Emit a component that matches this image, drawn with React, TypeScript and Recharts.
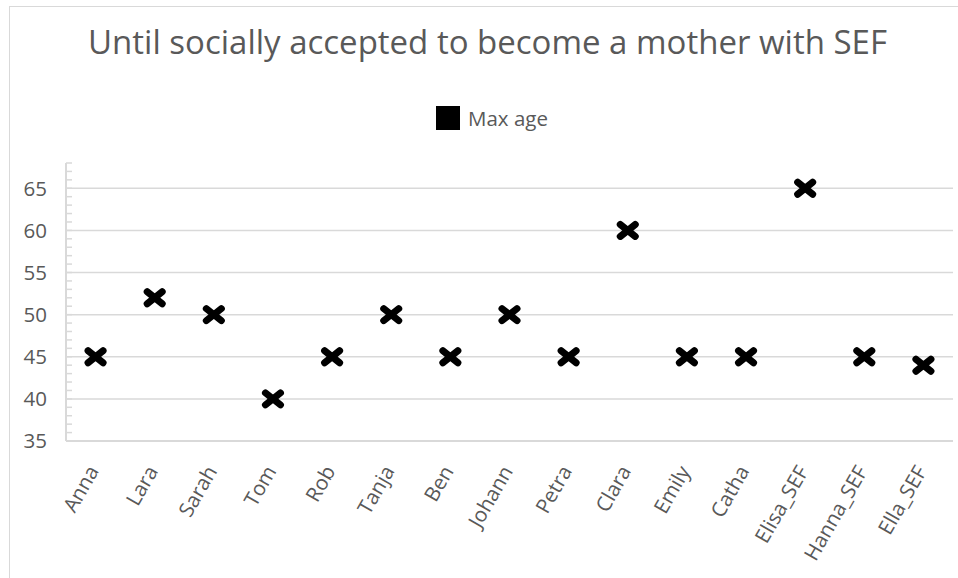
import React from 'react';
import {
  ScatterChart,
  Scatter,
  XAxis,
  YAxis,
  CartesianGrid,
} from 'recharts';

const names = [
  'Anna', 'Lara', 'Sarah', 'Tom', 'Rob', 'Tanja', 'Ben', 'Johann',
  'Petra', 'Clara', 'Emily', 'Catha', 'Elisa_SEF', 'Hanna_SEF', 'Ella_SEF',
];
const maxAge = [45, 52, 50, 40, 45, 50, 45, 50, 45, 60, 45, 45, 65, 45, 44];
const ageDomain = [35, 68];
const majorTicks = [35, 40, 45, 50, 55, 60, 65];
const minorTicks = [
  35, 36, 37, 38, 39, 40, 41, 42, 43, 44, 45, 46, 47, 48, 49, 50, 51,
  52, 53, 54, 55, 56, 57, 58, 59, 60, 61, 62, 63, 64, 65, 66, 67, 68,
];

const data = names.map((name, i) => ({ name, age: maxAge[i] }));

const FONT = '"Open Sans", Calibri, sans-serif';
const TEXT = '#595959';
const LINE = '#d9d9d9';
const LABEL_GAP = 19;

// thick black cross used as point marker
function CrossMark(props: any) {
  const { cx, cy } = props;
  if (cx == null || cy == null) return null;
  return (
    <g stroke="#000" strokeWidth={7} strokeLinecap="round">
      <line x1={cx - 7.5} y1={cy - 6} x2={cx + 7.5} y2={cy + 6} />
      <line x1={cx - 7.5} y1={cy + 6} x2={cx + 7.5} y2={cy - 6} />
    </g>
  );
}

// y ticks: small inner mark every unit, label on the major values
function AgeTick(props: any) {
  const { x, y, payload } = props;
  const axisX = x + LABEL_GAP;
  const isMajor = majorTicks.includes(payload.value);
  return (
    <g>
      <line x1={axisX} y1={y} x2={axisX + 6} y2={y} stroke={LINE} strokeWidth={1.5} />
      {isMajor && (
        <text
          x={x}
          y={y}
          dy="0.36em"
          textAnchor="end"
          fill={TEXT}
          fontSize={20.5}
          fontFamily={FONT}
        >
          {payload.value}
        </text>
      )}
    </g>
  );
}

function NameTick(props: any) {
  const { x, y, payload } = props;
  return (
    <g transform={`translate(${x + 4},${y + 22})`}>
      <text
        transform="rotate(-60)"
        textAnchor="end"
        fill={TEXT}
        fontSize={20.5}
        fontFamily={FONT}
      >
        {payload.value}
      </text>
    </g>
  );
}

// gridlines only on the labelled values
function majorGridLines({ yAxis, offset }: any) {
  const scale = yAxis && yAxis.scale;
  if (typeof scale === 'function') return majorTicks.map((v) => scale(v));
  const [lo, hi] = ageDomain;
  return majorTicks.map(
    (v) => offset.top + ((hi - v) / (hi - lo)) * offset.height
  );
}

export default function App() {
  return (
    <div
      style={{
        position: 'absolute',
        left: 0,
        top: 0,
        width: 958,
        height: 578,
        overflow: 'hidden',
        background: '#fff',
      }}
    >
      {/* chart frame */}
      <div
        style={{
          position: 'absolute',
          left: 9,
          top: 6,
          width: 980,
          height: 620,
          border: `1px solid ${LINE}`,
        }}
      />
      <div
        style={{
          position: 'absolute',
          left: 0,
          width: 975,
          top: 19,
          textAlign: 'center',
          fontFamily: FONT,
          fontSize: 33,
          lineHeight: '45px',
          color: TEXT,
        }}
      >
        Until socially accepted to become a mother with SEF
      </div>
      <div
        style={{
          position: 'absolute',
          left: 436,
          top: 104,
          display: 'flex',
          alignItems: 'center',
          fontFamily: FONT,
          fontSize: 20.5,
          lineHeight: '28px',
          color: TEXT,
        }}
      >
        <span
          style={{
            width: 24,
            height: 24,
            background: '#000',
            display: 'inline-block',
            marginRight: 8,
          }}
        />
        Max age
      </div>
      <ScatterChart
        width={958}
        height={578}
        margin={{ top: 163, right: 5, bottom: 0, left: 0 }}
        style={{ position: 'absolute', left: 0, top: 0 }}
      >
        <CartesianGrid
          vertical={false}
          stroke={LINE}
          strokeWidth={1.5}
          horizontalCoordinatesGenerator={majorGridLines}
        />
        <XAxis
          dataKey="name"
          type="category"
          allowDuplicatedCategory={false}
          height={137}
          interval={0}
          tick={<NameTick />}
          tickLine={false}
          axisLine={{ stroke: LINE, strokeWidth: 2 }}
        />
        <YAxis
          dataKey="age"
          type="number"
          domain={ageDomain}
          ticks={minorTicks}
          interval={0}
          width={66}
          tickSize={0}
          tickMargin={LABEL_GAP}
          tick={<AgeTick />}
          axisLine={{ stroke: LINE, strokeWidth: 2 }}
          tickLine={false}
        />
        <Scatter
          name="Max age"
          data={data}
          shape={<CrossMark />}
          isAnimationActive={false}
        />
      </ScatterChart>
    </div>
  );
}
